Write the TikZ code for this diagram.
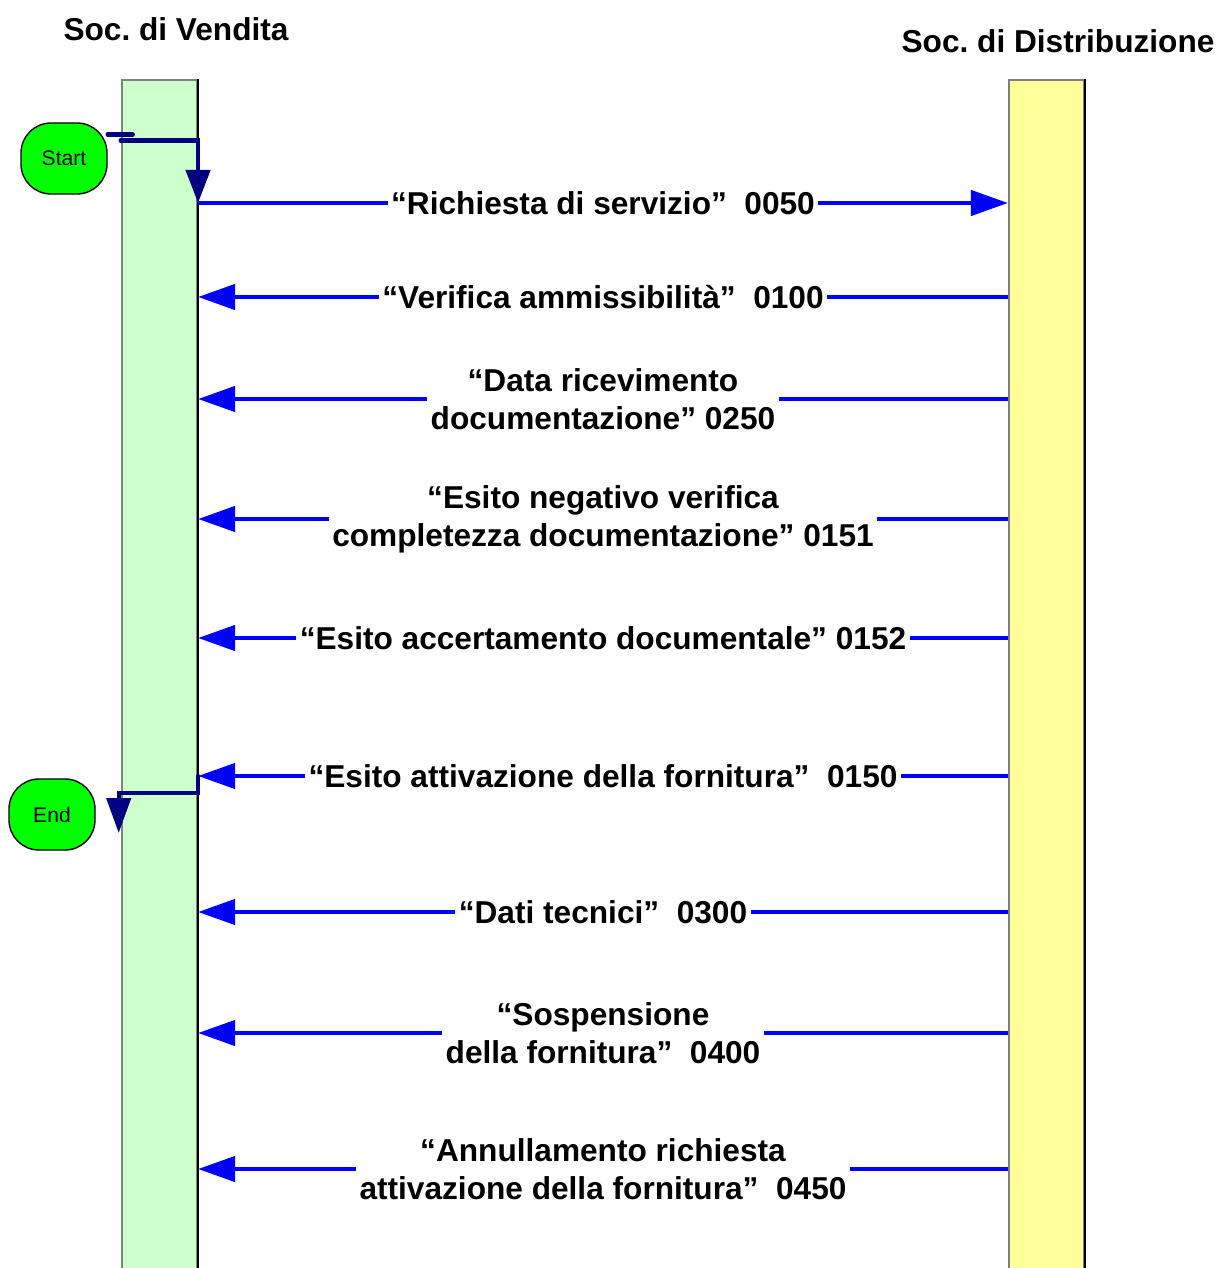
\documentclass[tikz,border=0pt]{standalone}
\usepackage{fontspec}
\setmainfont{Liberation Sans}
\usetikzlibrary{arrows.meta}
\frenchspacing

\definecolor{vendfill}{RGB}{204,255,204}
\definecolor{distrfill}{RGB}{255,255,153}
\definecolor{termfill}{RGB}{0,255,0}
\definecolor{msgblue}{RGB}{0,0,255}
\definecolor{ctlnavy}{RGB}{0,0,128}

\tikzset{
  lane/.style={draw=black!50, line width=0.6pt, minimum width=0.75cm, minimum height=11.95cm, anchor=north, inner sep=0},
  term/.style={draw=black, line width=0.4pt, fill=termfill, rounded corners=0.3cm, minimum width=0.86cm, minimum height=0.71cm, font=\fontsize{6}{7}\selectfont},
  title/.style={font=\fontsize{9}{10.8}\selectfont\bfseries},
  msg/.style={draw=msgblue, line width=1.25pt, -{Triangle[length=0.37cm, width=0.25cm]}},
  ctl/.style={draw=ctlnavy, line width=1.25pt, line cap=round},
  msgtext/.style={fill=white, align=center, inner xsep=1pt, inner ysep=0pt, font=\fontsize{9}{10.8}\selectfont\bfseries}
}

\begin{document}
\begin{tikzpicture}
  \useasboundingbox (0,0) rectangle (12.19,-12.68);

  % swimlanes
  \node[lane, fill=vendfill] (vend) at (1.595,-0.79) {};
  \node[lane, fill=distrfill] (distr) at (10.465,-0.79) {};
  \draw[black, line width=0.6pt] (vend.north east) -- (vend.south east);
  \draw[black, line width=0.6pt] (distr.north east) -- (distr.south east);

  \node[title] (vtitle) at (1.76,-0.29) {Soc. di Vendita};
  \node[title] (dtitle) at (10.58,-0.41) {Soc. di Distribuzione};

  % start / end
  \node[term] (start) at (0.64,-1.585) {Start};
  \node[term] (end) at (0.52,-8.145) {End};

  \draw[ctl] ([yshift=0.24cm]start.east) -- ++(0.25,0);
  \coordinate (s1) at ([xshift=0.13cm, yshift=0.18cm]start.east);
  \draw[ctl, -{Triangle[length=0.33cm, width=0.24cm]}] (s1) -| (vend.east |- 0,-2.03);

  % messages
  \draw[msg] (vend.east |- 0,-2.03) -- node[msgtext] (m0050) {“Richiesta di servizio”\ \ 0050} (distr.west |- 0,-2.03);
  \draw[msg] (distr.west |- 0,-2.97) -- node[msgtext] (m0100) {“Verifica ammissibilità”\ \ 0100} (vend.east |- 0,-2.97);
  \draw[msg] (distr.west |- 0,-3.99) -- node[msgtext] (m0250) {“Data ricevimento\\documentazione” 0250} (vend.east |- 0,-3.99);
  \draw[msg] (distr.west |- 0,-5.19) -- node[msgtext] (m0151) {“Esito negativo verifica\\completezza documentazione” 0151} (vend.east |- 0,-5.19);
  \draw[msg] (distr.west |- 0,-6.38) -- node[msgtext] (m0152) {“Esito accertamento documentale” 0152} (vend.east |- 0,-6.38);
  \draw[msg] (distr.west |- 0,-7.76) -- node[msgtext] (m0150) {“Esito attivazione della fornitura”\ \ 0150} (vend.east |- 0,-7.76);
  \draw[msg] (distr.west |- 0,-9.12) -- node[msgtext] (m0300) {“Dati tecnici”\ \ 0300} (vend.east |- 0,-9.12);
  \draw[msg] (distr.west |- 0,-10.33) -- node[msgtext] (m0400) {“Sospensione\\della fornitura”\ \ 0400} (vend.east |- 0,-10.33);
  \draw[msg] (distr.west |- 0,-11.69) -- node[msgtext] (m0450) {“Annullamento richiesta\\attivazione della fornitura”\ \ 0450} (vend.east |- 0,-11.69);

  % to end
  \draw[ctl, -{Triangle[length=0.35cm, width=0.24cm]}] (vend.east |- 0,-7.76) -- (vend.east |- 0,-7.93) -- ([xshift=0.23cm]end.east |- 0,-7.93) -- ++(0,-0.40);
\end{tikzpicture}
\end{document}
